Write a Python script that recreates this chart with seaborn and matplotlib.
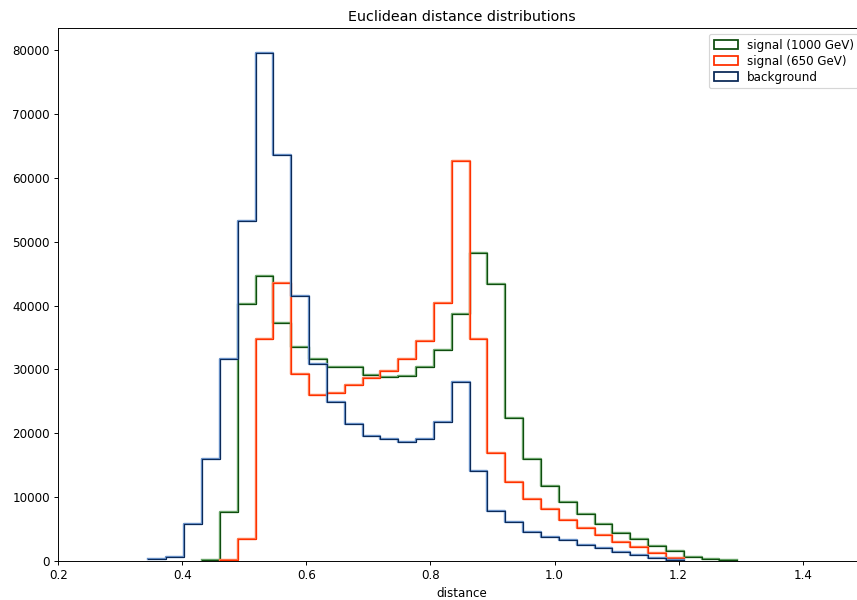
import numpy as np
import pandas as pd
import matplotlib
matplotlib.use("Agg")
import matplotlib.pyplot as plt
from matplotlib.patches import Patch
import seaborn as sns

# Shared histogram binning (bin edges in distance units)
bin_edges = [0.3455, 0.3743, 0.4030, 0.4318, 0.4605, 0.4893, 0.5181, 0.5468,
             0.5756, 0.6043, 0.6331, 0.6619, 0.6906, 0.7194, 0.7481, 0.7769,
             0.8057, 0.8344, 0.8632, 0.8919, 0.9207, 0.9495, 0.9782, 1.0070,
             1.0357, 1.0645, 1.0933, 1.1220, 1.1508, 1.1795, 1.2083, 1.2371,
             1.2658, 1.2946, 1.3233]

# Entries per bin
signal_1000 = [0, 0, 0, 200, 7630, 40290, 44570, 37260, 33440, 31620, 30460,
               30330, 29160, 28800, 29000, 30460, 32970, 38670, 48230, 43380,
               22370, 15940, 11780, 9170, 7340, 5750, 4390, 3400, 2350, 1570,
               670, 270, 80, 0]
signal_650 = [0, 0, 0, 0, 80, 3500, 34800, 43480, 29320, 26020, 26290,
              27540, 28640, 29680, 31620, 34490, 40450, 62600, 34800, 16880,
              12430, 9720, 8120, 6380, 5120, 4080, 3030, 2150, 1300, 420,
              0, 0, 0, 0]
background = [300, 680, 5850, 16040, 31670, 53260, 79500, 63540, 41440, 30830,
              24880, 21530, 19650, 19080, 18710, 19130, 21840, 27960, 14160,
              7840, 6060, 4600, 3810, 3250, 2490, 1990, 1460, 940, 520, 150,
              0, 0, 0, 0]

series_labels = ["signal (1000 GeV)", "signal (650 GeV)", "background"]
series_counts = [signal_1000, signal_650, background]
# (halo colour, core colour) for each series outline
series_colors = [("#6aa66a", "#0f4d0f"),
                 ("#ff7448", "#ff3000"),
                 ("#6790c8", "#0c2a58")]

edges = np.asarray(bin_edges)
centers = (edges[:-1] + edges[1:]) / 2

fig = plt.figure(figsize=(10.0005, 7.0012), dpi=85.7)
ax = fig.add_axes([0.0679, 0.065, 0.9411, 0.8883])

for counts, (halo, core) in zip(series_counts, series_colors):
    counts = np.asarray(counts)
    # only draw the populated range of each distribution
    nz = np.flatnonzero(counts)
    lo, hi = nz[0], nz[-1] + 1
    df = pd.DataFrame({"distance": centers[lo:hi], "entries": counts[lo:hi]})
    series_bins = [float(e) for e in edges[lo:hi + 1]]
    sns.histplot(data=df, x="distance", weights="entries", bins=series_bins,
                 element="step", fill=False, color=halo, linewidth=2.0, ax=ax)
    sns.histplot(data=df, x="distance", weights="entries", bins=series_bins,
                 element="step", fill=False, color=core, linewidth=0.9, ax=ax)

ax.set_xlim(0.2, 1.5)
ax.set_ylim(0, max(background) * 1.05)
ax.set_xlabel("distance")
ax.set_ylabel("")
ax.set_title("Euclidean distance distributions")

handles = [Patch(facecolor="none", edgecolor=core, linewidth=1.5, label=lab)
           for lab, (halo, core) in zip(series_labels, series_colors)]
ax.legend(handles=handles, loc="upper right", labelspacing=0.25)

fig.savefig("out.png", dpi=85.7)
